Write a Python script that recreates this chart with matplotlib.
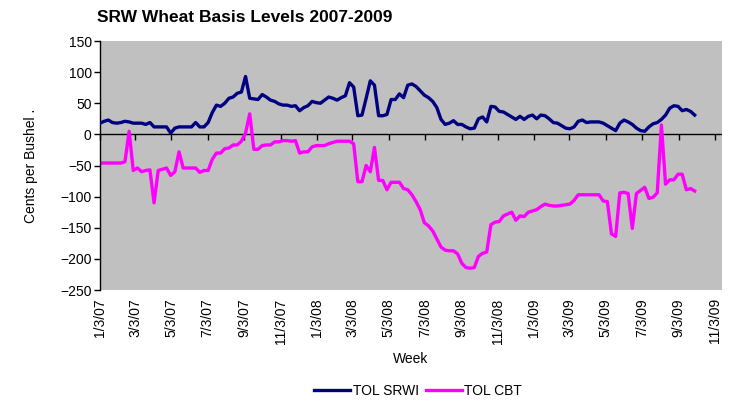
import matplotlib
matplotlib.use("Agg")
import matplotlib.pyplot as plt
import pandas as pd

plt.rcParams['font.family'] = ['Liberation Sans', 'DejaVu Sans']

start_date = "2007-01-03"
n_weeks = 144

tol_srwi = [
    18, 21, 23, 19, 18, 19, 21, 20,
    18, 18, 18, 16, 19, 12, 12, 12,
    12, 2, 10, 12, 12, 12, 12, 19,
    12, 12, 19, 35, 47, 45, 50, 58,
    60, 66, 68, 93, 58, 57, 56, 64,
    60, 55, 53, 49, 47, 47, 45, 46,
    38, 43, 46, 53, 51, 50, 55, 60,
    58, 55, 59, 62, 83, 76, 30, 31,
    58, 86, 79, 30, 30, 32, 56, 56,
    65, 59, 79, 81, 77, 70, 63, 59,
    53, 43, 24, 16, 18, 22, 16, 16,
    12, 9, 10, 25, 28, 20, 45, 44,
    37, 36, 32, 28, 24, 29, 24, 29,
    31, 25, 31, 30, 25, 19, 18, 14,
    10, 9, 12, 21, 23, 19, 20, 20,
    20, 18, 14, 10, 6, 18, 23, 20,
    16, 10, 6, 5, 12, 17, 19, 24,
    31, 42, 46, 45, 38, 40, 37, 31,
]

tol_cbt = [
    -46, -46, -46, -46, -46, -46, -44, 5,
    -58, -54, -60, -58, -57, -110, -58, -56,
    -54, -66, -60, -28, -54, -54, -54, -54,
    -61, -58, -58, -40, -30, -30, -23, -22,
    -17, -17, -11, 2, 33, -24, -24, -18,
    -17, -17, -12, -12, -10, -10, -11, -10,
    -30, -28, -28, -20, -18, -18, -18, -15,
    -13, -11, -11, -11, -11, -15, -76, -76,
    -50, -60, -21, -74, -74, -89, -77, -77,
    -77, -87, -89, -97, -108, -121, -142, -147,
    -155, -168, -181, -186, -187, -187, -192, -207,
    -214, -215, -214, -196, -191, -189, -145, -141,
    -140, -131, -128, -125, -138, -131, -132, -125,
    -123, -121, -116, -112, -114, -115, -115, -114,
    -113, -112, -106, -97, -97, -97, -97, -97,
    -97, -107, -108, -160, -164, -94, -93, -95,
    -151, -95, -90, -85, -103, -101, -94, 15,
    -80, -73, -73, -64, -64, -89, -87, -91,
]

tick_dates = ["1/3/07", "3/3/07", "5/3/07", "7/3/07", "9/3/07", "11/3/07",
              "1/3/08", "3/3/08", "5/3/08", "7/3/08", "9/3/08", "11/3/08",
              "1/3/09", "3/3/09", "5/3/09", "7/3/09", "9/3/09", "11/3/09"]
y_ticks = [150, 100, 50, 0, -50, -100, -150, -200, -250]

weeks = pd.date_range(start_date, periods=n_weeks, freq="7D")
tick_pos = pd.to_datetime(tick_dates, format="%m/%d/%y")

fig = plt.figure(figsize=(7.40, 4.01), dpi=100)
ax = fig.add_axes([100/740, 1-290/401, (722-100)/740, (290-41)/401])
ax.set_facecolor("#C0C0C0")

ax.axhline(0, color="black", lw=1, zorder=1.5)
l1, = ax.plot(weeks, tol_srwi, color="#000080", lw=2.4, label="TOL SRWI", zorder=3)
l2, = ax.plot(weeks, tol_cbt, color="#FF00FF", lw=2.4, label="TOL CBT", zorder=2)

ax.set_ylim(-250, 150)
ax.set_xlim(tick_pos[0], tick_pos[-1] + pd.Timedelta(days=12))
ax.set_yticks(y_ticks)
ax.tick_params(axis='y', direction='out', length=4, width=1, labelsize=10, pad=2)

for s in ['top', 'right', 'bottom']:
    ax.spines[s].set_visible(False)
ax.spines['left'].set_color('black')
ax.spines['left'].set_linewidth(1)

ax.set_xticks(tick_pos)
ax.set_xticklabels(tick_dates, rotation=90, fontsize=10)
ax.tick_params(axis='x', length=0, pad=6)

# tick marks on the zero line
zero_frac = (0 - (-250)) / 400
sec = ax.secondary_xaxis(zero_frac)
sec.set_xticks(tick_pos)
sec.tick_params(axis='x', direction='out', length=4, width=1, labelbottom=False, labeltop=False,
                bottom=True, top=False)
for s in sec.spines.values():
    s.set_visible(False)

ax.set_xlabel("Week", fontsize=10, labelpad=6)
ax.set_ylabel("Cents per Bushel .", fontsize=10, labelpad=16)

fig.text(97/740, 1-18/401, "SRW Wheat Basis Levels 2007-2009", fontsize=12.5,
         fontweight='bold', ha='left', va='center')

fig.legend(handles=[l1, l2], loc='center', bbox_to_anchor=(418/740, 1-391/401), ncol=2,
           frameon=False, fontsize=10, handlelength=2.6, columnspacing=0.5, handletextpad=0.2)

fig.savefig("out.png", dpi=100)
